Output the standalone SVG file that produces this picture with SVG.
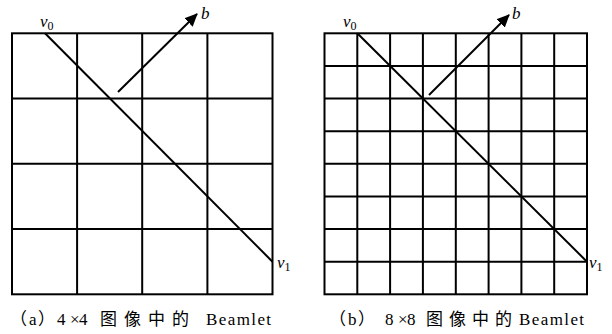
<svg xmlns="http://www.w3.org/2000/svg" width="612" height="334" viewBox="0 0 612 334">
<style>
.g{stroke:#000;stroke-width:2;fill:none}
.d{stroke:#000;stroke-width:2;fill:none}
.m{font-family:"Liberation Serif",serif;font-style:italic;font-size:17px;fill:#000}
.s{font-family:"Liberation Serif",serif;font-style:normal;font-size:12px}
.c{font-family:"Liberation Serif","Noto Sans CJK SC",serif;font-size:17px;fill:#000}
.k{font-family:"Noto Sans CJK SC",serif;font-size:17px;letter-spacing:6px}
.k2{font-family:"Noto Sans CJK SC",serif;font-size:17px;letter-spacing:7px}
.e{letter-spacing:1.4px}
</style>
<defs>
<marker id="ah" markerWidth="14" markerHeight="12" refX="12" refY="6" orient="auto" markerUnits="userSpaceOnUse">
<path d="M0,0 L13,6 L0,12 z" fill="#000"/>
</marker>
</defs>
<rect width="612" height="334" fill="#fff"/>
<g id="gridA">
<rect class="g" x="12" y="33.3" width="260.5" height="261"/>
<path class="g" d="M77.1,33.3V294.3M142.2,33.3V294.3M207.4,33.3V294.3M12,98.5H272.5M12,163.8H272.5M12,229H272.5"/>
</g>
<g id="gridB">
<rect class="g" x="324.5" y="33.3" width="262.5" height="261"/>
<path class="g" d="M357.3,33.3V294.3M390.1,33.3V294.3M422.9,33.3V294.3M455.8,33.3V294.3M488.6,33.3V294.3M521.4,33.3V294.3M554.2,33.3V294.3M324.5,65.9H587M324.5,98.5H587M324.5,131.2H587M324.5,163.8H587M324.5,196.4H587M324.5,229H587M324.5,261.7H587"/>
</g>
<g id="connectors">
<line class="d" x1="45" y1="33.3" x2="272.5" y2="261.7"/>
<line class="d" x1="118" y1="92" x2="197" y2="14" marker-end="url(#ah)"/>
<line class="d" x1="357.3" y1="33.3" x2="587" y2="261.7"/>
<line class="d" x1="429" y1="95" x2="509" y2="15" marker-end="url(#ah)"/>
</g>
<g id="labelsA">
<text class="m" x="40" y="27">v<tspan class="s" dy="3">0</tspan></text>
<text class="m" x="201" y="19">b</text>
<text class="m" x="277" y="268">v<tspan class="s" dy="3">1</tspan></text>
</g>
<g id="labelsB">
<text class="m" x="343" y="27">v<tspan class="s" dy="3">0</tspan></text>
<text class="m" x="512" y="19">b</text>
<text class="m" x="589" y="268">v<tspan class="s" dy="3">1</tspan></text>
</g>
<g id="captions">
<text class="c" y="325"><tspan x="10">（</tspan><tspan x="29">a</tspan><tspan x="38">）</tspan><tspan x="57">4</tspan><tspan x="70">×</tspan><tspan x="79">4</tspan><tspan class="k2" x="100">图像中的</tspan><tspan class="e" x="206">Beamlet</tspan></text>
<text class="c" y="325"><tspan x="329">（</tspan><tspan x="348">b</tspan><tspan x="358">）</tspan><tspan x="385">8</tspan><tspan x="398">×</tspan><tspan x="407">8</tspan><tspan class="k" x="426">图像中的</tspan><tspan class="e" x="519">Beamlet</tspan></text>
</g>
</svg>
